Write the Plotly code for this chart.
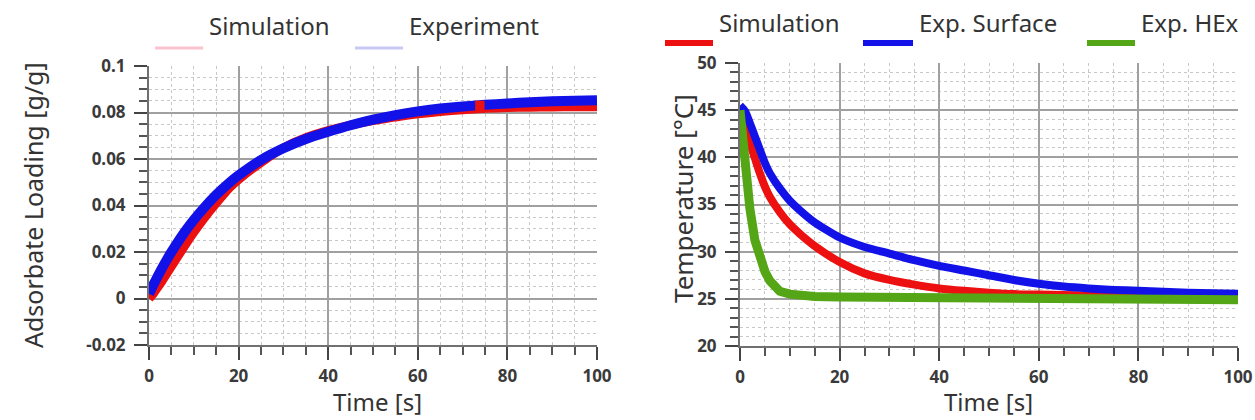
import plotly.graph_objects as go

W, H = 1255, 420

# ---------------- data (left: adsorbate loading) ----------------
t_sim_load = [0, 1, 2, 3, 4, 5, 6, 8, 10, 12, 15, 18, 20, 25, 30, 35, 40, 45, 50, 55,
              60, 65, 70, 75, 80, 85, 90, 95, 100]
sim_load = [0.0, 0.0022, 0.005, 0.0078, 0.0108, 0.0138, 0.0168, 0.0228, 0.0285, 0.0338,
            0.041, 0.0477, 0.0512, 0.0585, 0.0648, 0.0692, 0.0722, 0.0746, 0.0765, 0.0781,
            0.0794, 0.0804, 0.0812, 0.0818, 0.0821, 0.0823, 0.0824, 0.0825, 0.0825]
# short blip in the simulated loading near t = 74 s
t_sim_blip = [72.8, 74.9]
sim_blip = [0.0825, 0.0825]

t_exp_load = [0, 1, 2, 3, 4, 5, 6, 8, 10, 12, 15, 18, 20, 25, 30, 35, 40, 45, 50, 55,
              60, 65, 70, 75, 80, 85, 90, 95, 100]
exp_load = [0.002, 0.006, 0.0098, 0.0134, 0.0168, 0.0200, 0.0230, 0.0287, 0.0338, 0.0384,
            0.0446, 0.0499, 0.0530, 0.0596, 0.0646, 0.0686, 0.0717, 0.0745, 0.0769, 0.0789,
            0.0805, 0.0817, 0.0826, 0.0833, 0.0839, 0.0844, 0.0848, 0.0851, 0.0853]

# ---------------- data (right: temperature) ----------------
t_temp = [0, 1, 2, 3, 4, 5, 6, 8, 10, 12, 15, 20, 25, 30, 35, 40, 45, 50, 55, 60,
          65, 70, 75, 80, 85, 90, 95, 100]
sim_temp = [45.0, 43.3, 41.5, 39.9, 38.3, 36.9, 35.8, 34.2, 32.9, 31.9, 30.6, 28.9, 27.7,
            27.0, 26.5, 26.1, 25.85, 25.65, 25.5, 25.45, 25.4, 25.35, 25.32, 25.3, 25.28,
            25.25, 25.22, 25.2]
surf_temp = [45.5, 44.9, 43.6, 42.2, 40.8, 39.4, 38.3, 36.7, 35.4, 34.4, 33.1, 31.5, 30.5,
             29.8, 29.1, 28.5, 28.0, 27.5, 27.0, 26.6, 26.3, 26.1, 25.95, 25.85, 25.75,
             25.65, 25.6, 25.55]

t_hex = [0, 0.5, 1, 2, 3, 4, 5, 6, 8, 10, 12, 15, 20, 30, 40, 50, 60, 62, 63, 70, 80, 90, 100]
hex_temp = [45.0, 42.0, 39.0, 34.5, 31.2, 29.1, 27.9, 26.9, 25.8, 25.5, 25.35, 25.25, 25.2,
            25.15, 25.15, 25.1, 25.1, 25.05, 24.9, 24.9, 24.9, 24.9, 24.9]

# ticks / labels
load_ticks = [-0.02, 0, 0.02, 0.04, 0.06, 0.08, 0.1]
load_ticktext = ["-0.02", "0", "0.02", "0.04", "0.06", "0.08", "0.1"]
temp_ticks = [20, 25, 30, 35, 40, 45, 50]
time_ticks = [0, 20, 40, 60, 80, 100]

legend_left = ["Simulation", "Experiment"]
legend_right = ["Simulation", "Exp. Surface", "Exp. HEx"]

RED = "rgb(236,16,16)"
BLUE = "rgb(18,18,232)"
GREEN = "rgb(84,166,22)"

FONT = "Noto Sans"
TXT = "#333333"

fig = go.Figure()
fig.add_trace(go.Scatter(x=t_sim_load, y=sim_load, mode="lines", name="Simulation",
                         line=dict(color=RED, width=9, shape="spline", smoothing=0.5),
                         xaxis="x", yaxis="y"))
fig.add_trace(go.Scatter(x=t_exp_load, y=exp_load, mode="lines", name="Experiment",
                         line=dict(color=BLUE, width=10, shape="spline", smoothing=0.5),
                         xaxis="x", yaxis="y"))
fig.add_trace(go.Scatter(x=t_sim_blip, y=sim_blip, mode="lines", name="Simulation",
                         line=dict(color=RED, width=12), xaxis="x", yaxis="y"))
fig.add_trace(go.Scatter(x=t_temp, y=sim_temp, mode="lines", name="Simulation",
                         line=dict(color=RED, width=8, shape="spline", smoothing=0.6),
                         xaxis="x2", yaxis="y2"))
fig.add_trace(go.Scatter(x=t_temp, y=surf_temp, mode="lines", name="Exp. Surface",
                         line=dict(color=BLUE, width=8, shape="spline", smoothing=0.6),
                         xaxis="x2", yaxis="y2"))
fig.add_trace(go.Scatter(x=t_hex, y=hex_temp, mode="lines", name="Exp. HEx",
                         line=dict(color=GREEN, width=9), xaxis="x2", yaxis="y2"))


def px_x(p):
    return p / W


def px_y(p):
    return 1 - p / H


tickfont = dict(family=FONT, size=17, color="#3a3a3a", weight="bold")
minor_common = dict(ticks="outside", ticklen=8, tickwidth=1.5, tickcolor="#555",
                    showgrid=True, gridcolor="rgb(200,200,200)", griddash="dot", gridwidth=1)
axis_common = dict(showline=True, linecolor="#707070", linewidth=2, mirror=False,
                   ticks="outside", ticklen=13, tickwidth=2, tickcolor="#444",
                   showgrid=True, gridcolor="rgb(160,160,160)", gridwidth=1.5,
                   zeroline=False, tickfont=tickfont, automargin=False)

fig.update_layout(
    width=W, height=H,
    margin=dict(l=0, r=0, t=0, b=0),
    paper_bgcolor="white", plot_bgcolor="white",
    showlegend=False,
    xaxis=dict(domain=[px_x(149), px_x(597)], range=[0, 100], tickvals=time_ticks,
               minor=dict(dtick=5, **minor_common), anchor="y", ticklabelstandoff=2,
               **axis_common),
    yaxis=dict(domain=[px_y(345), px_y(66)], range=[-0.02, 0.1], tickvals=load_ticks,
               ticktext=load_ticktext, minor=dict(dtick=0.005, tick0=0, **minor_common),
               anchor="x", ticklabelstandoff=5, **axis_common),
    xaxis2=dict(domain=[px_x(740), px_x(1238)], range=[0, 100], tickvals=time_ticks,
                minor=dict(dtick=5, **minor_common), anchor="y2", ticklabelstandoff=2,
                **axis_common),
    yaxis2=dict(domain=[px_y(346), px_y(63)], range=[20, 50], tickvals=temp_ticks,
                minor=dict(dtick=1, tick0=0, **minor_common), anchor="x2",
                ticklabelstandoff=5, **axis_common),
)

title_font = dict(family=FONT, size=24, color=TXT)
ann = []
ann.append(dict(text="Time [s]", x=px_x(377), y=px_y(420), xref="paper", yref="paper",
                showarrow=False, xanchor="center", yanchor="bottom", font=title_font))
ann.append(dict(text="Time [s]", x=px_x(988), y=px_y(420), xref="paper", yref="paper",
                showarrow=False, xanchor="center", yanchor="bottom", font=title_font))
ann.append(dict(text="Adsorbate Loading [g/g]", x=px_x(33), y=px_y(205), xref="paper",
                yref="paper", showarrow=False, textangle=-90, xanchor="center",
                yanchor="middle", font=dict(family=FONT, size=25, color=TXT)))
ann.append(dict(text="Temperature [°C]", x=px_x(683), y=px_y(199), xref="paper",
                yref="paper", showarrow=False, textangle=-90, xanchor="center",
                yanchor="middle", font=dict(family=FONT, size=26, color=TXT)))

leg_font = dict(family=FONT, size=24, color=TXT)
shapes = []
# left legend (faded swatches)
left_pos = [(155, 203, 207, "rgb(250,195,205)"), (355, 403, 407, "rgb(200,200,245)")]
for name, (x0, x1, tx, col) in zip(legend_left, left_pos):
    ann.append(dict(text=name, x=px_x(tx), y=px_y(25), xref="paper", yref="paper",
                    showarrow=False, xanchor="left", yanchor="middle", font=leg_font))
    shapes.append(dict(type="line", xref="paper", yref="paper", x0=px_x(x0), x1=px_x(x1),
                       y0=px_y(48), y1=px_y(48), line=dict(color=col, width=3)))
right_pos = [(665, 713, 717, RED), (863, 913, 917, BLUE), (1087, 1135, 1139, GREEN)]
for name, (x0, x1, tx, col) in zip(legend_right, right_pos):
    ann.append(dict(text=name, x=px_x(tx), y=px_y(22), xref="paper", yref="paper",
                    showarrow=False, xanchor="left", yanchor="middle", font=leg_font))
    shapes.append(dict(type="line", xref="paper", yref="paper", x0=px_x(x0), x1=px_x(x1),
                       y0=px_y(43), y1=px_y(43), line=dict(color=col, width=6)))

fig.update_layout(annotations=ann, shapes=shapes)
fig.write_html("out.html")
